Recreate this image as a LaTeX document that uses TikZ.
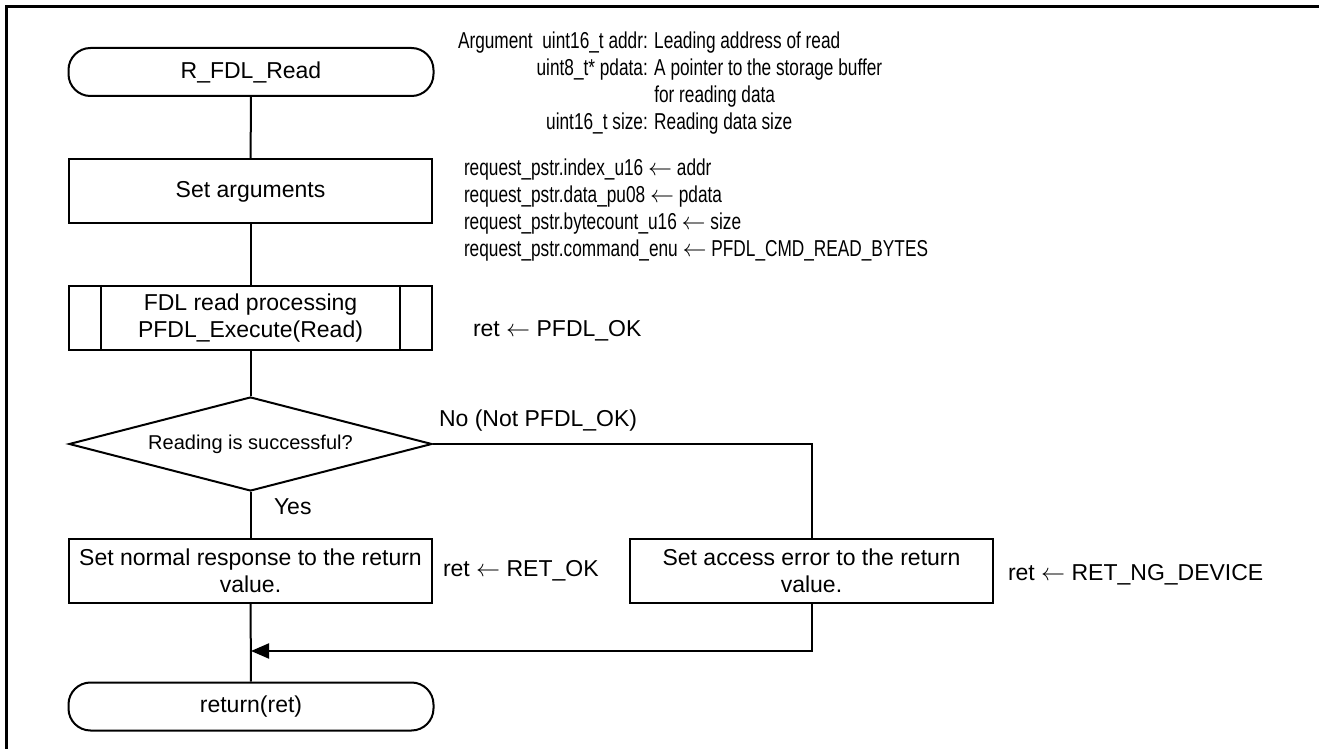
\documentclass[tikz,border=0pt]{standalone}
\usepackage{fontspec}
\setmainfont{Liberation Sans}
\newfontfamily\narrowfont[FakeStretch=0.75]{Liberation Sans}
\usetikzlibrary{arrows.meta,shapes.geometric}

\begin{document}
\begin{tikzpicture}[x=0.5pt,y=-0.5pt,line width=1pt,
  font=\fontsize{11.5}{13.5}\selectfont,
  term/.style={draw,rounded corners=11pt,minimum width=182.5pt,minimum height=24pt,inner sep=0pt},
  proc/.style={draw,minimum width=181.5pt,minimum height=32pt,inner sep=0pt,align=center},
  decide/.style={draw,diamond,aspect=3.86,minimum width=181.5pt,minimum height=47pt,inner sep=0pt,font=\fontsize{10}{12}\selectfont},
  note/.style={anchor=west,inner sep=0pt},
  narrownote/.style={note,align=left,font=\narrowfont\fontsize{11.5}{13.5}\selectfont}]
\useasboundingbox (0,0) rectangle (1319,749);
\draw[line width=1.5pt] (6,749) -- (6,7) -- (1319,7);

\node[term] (start) at (251,72) {R\_FDL\_Read};
\node[proc] (setarg) at (250.5,191.5) {Set arguments};
\node[proc] (fdlread) at (250.5,318) {FDL read processing\\PFDL\_Execute(Read)};
\draw ([xshift=16.5pt]fdlread.north west) -- ([xshift=16.5pt]fdlread.south west);
\draw ([xshift=-16.5pt]fdlread.north east) -- ([xshift=-16.5pt]fdlread.south east);
\node[decide] (check) at (250.5,444) {Reading is successful?};
\node[proc] (okset) at (250.5,571) {Set normal response to the return\\value.};
\node[proc] (ngset) at (811.5,571) {Set access error to the return\\value.};
\node[term] (finish) at (251,706.5) {return(ret)};
\coordinate (join) at (251,651);

\draw (start) -- (setarg);
\draw (setarg) -- (fdlread);
\draw (fdlread) -- (check);
\draw (check) -- (okset);
\draw (check.east) -| (ngset.north);
\draw (okset) -- (finish);
\draw[-{Triangle[length=9pt,width=7.5pt]}] (ngset.south) |- (join);

\node[note] (yeslbl) at (273,507) {Yes};
\node[note] (nolbl) at (438,421) {No (Not PFDL\_OK)};
\node[note] (retok) at (442,571) {ret $\leftarrow$ RET\_OK};
\node[note] (retpfdl) at (472,331) {ret $\leftarrow$ PFDL\_OK};
\node[note] (retng) at (1007,575) {ret $\leftarrow$ RET\_NG\_DEVICE};

\node[narrownote] (args) at (457,84) {\begin{tabular}{@{}r@{ }l@{}}
Argument\ \ uint16\_t addr: & Leading address of read\\
uint8\_t* pdata: & A pointer to the storage buffer\\
 & for reading data\\
uint16\_t size: & Reading data size
\end{tabular}};
\node[narrownote] (req) at (463,210) {request\_pstr.index\_u16 $\leftarrow$ addr\\
request\_pstr.data\_pu08 $\leftarrow$ pdata\\
request\_pstr.bytecount\_u16 $\leftarrow$ size\\
request\_pstr.command\_enu $\leftarrow$ PFDL\_CMD\_READ\_BYTES};
\end{tikzpicture}
\end{document}
